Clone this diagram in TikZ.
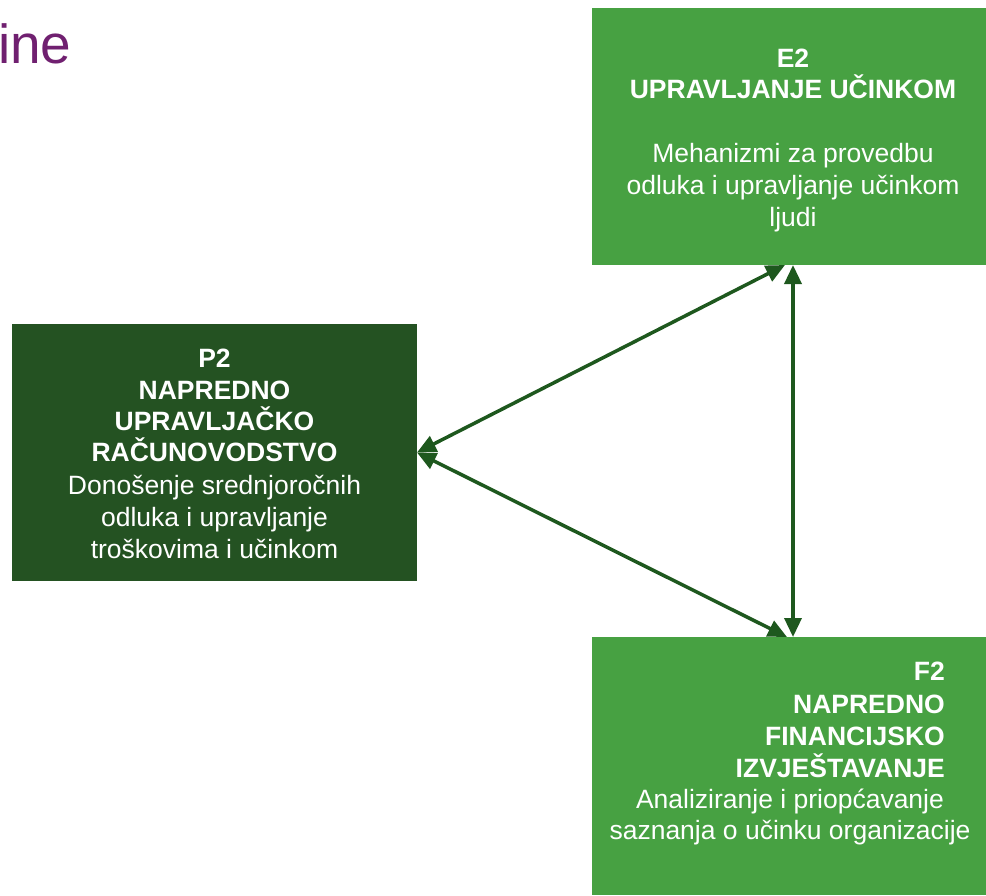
\documentclass[tikz,border=0pt]{standalone}
\usepackage{fontspec}
\setmainfont{Liberation Sans}
\usetikzlibrary{arrows.meta}
\definecolor{lgreen}{RGB}{71,161,66}
\definecolor{dgreen}{RGB}{36,82,34}
\definecolor{agreen}{RGB}{30,88,30}
\definecolor{ttl}{RGB}{112,32,112}
\begin{document}
\begin{tikzpicture}[x=1pt,y=-1pt,
  box/.style={draw=none, inner sep=0pt, outer sep=0pt, anchor=north west},
  lbl/.style={anchor=base, inner sep=0pt, text=white, font=\fontsize{26.5}{31}\selectfont},
  bl/.style={lbl, font=\bfseries\fontsize{26.5}{31}\selectfont},
  blr/.style={bl, anchor=base east},
  arr/.style={draw=agreen, line width=3.5pt, {Triangle[length=19pt,width=17pt]}-{Triangle[length=19pt,width=17pt]}}]
\useasboundingbox (0,0) rectangle (986,895);
% title fragment
\node[anchor=base west, inner sep=0pt, text=ttl, font=\fontsize{55}{60}\selectfont] (title) at (-2,63) {ine};
% boxes
\node[box, fill=lgreen, minimum width=394pt, minimum height=257pt] (E2) at (592,8) {};
\node[box, fill=dgreen, minimum width=405pt, minimum height=257pt] (P2) at (12,324) {};
\node[box, fill=lgreen, minimum width=394pt, minimum height=258pt] (F2) at (592,637) {};
% E2 text
\node[bl] (e1) at (793,67) {E2};
\node[bl] (e2) at (793,98) {UPRAVLJANJE UČINKOM};
\node[lbl] (e3) at (793,162) {Mehanizmi za provedbu};
\node[lbl] (e4) at (793,194) {odluka i upravljanje učinkom};
\node[lbl] (e5) at (793,226) {ljudi};
% P2 text
\node[bl] (p1) at (214.5,367) {P2};
\node[bl] (p2) at (214.5,399) {NAPREDNO};
\node[bl] (p3) at (214.5,430) {UPRAVLJAČKO};
\node[bl] (p4) at (214.5,461) {RAČUNOVODSTVO};
\node[lbl] (p5) at (214.5,494) {Donošenje srednjoročnih};
\node[lbl] (p6) at (214.5,526) {odluka i upravljanje};
\node[lbl] (p7) at (214.5,558) {troškovima i učinkom};
% F2 text
\node[blr] (f1) at (945,680) {F2};
\node[blr] (f2) at (945,713) {NAPREDNO};
\node[blr] (f3) at (945,745) {FINANCIJSKO};
\node[blr] (f4) at (945,777) {IZVJEŠTAVANJE};
\node[lbl] (f5) at (790,808) {Analiziranje i priopćavanje};
\node[lbl] (f6) at (790,839) {saznanja o učinku organizacije};
% connectors
\draw[arr] (P2.east) -- ([xshift=-4pt]E2.south);
\draw[arr] (P2.east) -- ([xshift=-2pt]F2.north);
\draw[arr] ([xshift=4pt]E2.south) -- ([xshift=4pt]F2.north);
\end{tikzpicture}
\end{document}
